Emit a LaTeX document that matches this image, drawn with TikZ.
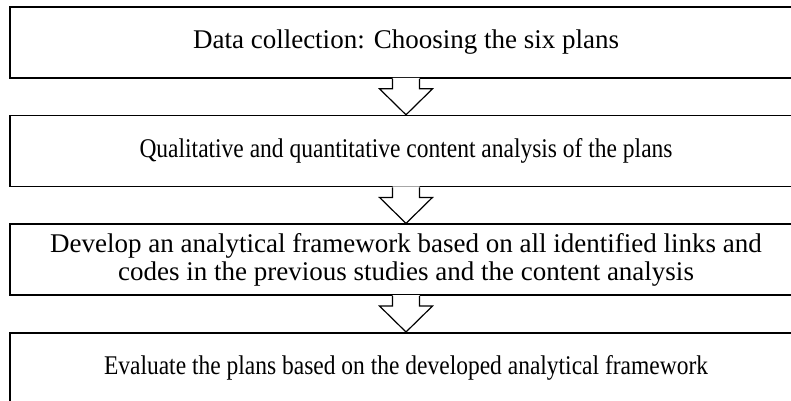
\documentclass[tikz,border=0pt]{standalone}
\usepackage{fontspec}
\setmainfont{Liberation Serif}
\newfontfamily\narrowserif[FakeStretch=0.87]{Liberation Serif}
\usetikzlibrary{positioning}
\tikzset{
  stage/.style={draw, line width=1.6pt, minimum width=792pt, minimum height=71pt,
    inner sep=0pt, align=center, font=\fontsize{27}{28}\selectfont},
  narrow/.style={font=\fontsize{27}{28}\narrowserif},
  flowarrow/.style={line width=1.2pt, line join=miter},
}
% open block arrow from the bottom of one stage to the top of the next
\newcommand{\stagearrow}[2]{%
  \fill[white] ([xshift=-13.5pt,yshift=1pt]#1.south) -- ++(0,-11pt) -- ++(-13pt,0)
    -- (#2.north) -- ([xshift=26.5pt,yshift=26pt]#2.north) -- ++(-13pt,0) -- ++(0,11pt) -- cycle;
  \draw[flowarrow] ([xshift=-13.5pt]#1.south) -- ++(0,-10pt) -- ++(-13pt,0)
    -- (#2.north) -- ([xshift=26.5pt,yshift=26pt]#2.north) -- ++(-13pt,0) -- ++(0,10pt);
}
\begin{document}
\begin{tikzpicture}[x=1pt,y=1pt]
\useasboundingbox (0,0) rectangle (791,-400);
\fill[white] (0,0) rectangle (791,-400);
\node[stage] (collect) at (406,-42.5) {Data collection: Choosing the six plans};
\node[stage, narrow, below=36pt of collect] (content) {Qualitative and quantitative content analysis of the plans};
\node[stage, below=36pt of content] (develop) {Develop an analytical framework based on all identified links and\\codes in the previous studies and the content analysis};
\node[stage, narrow, below=36pt of develop] (evaluate) {Evaluate the plans based on the developed analytical framework};
\stagearrow{collect}{content}
\stagearrow{content}{develop}
\stagearrow{develop}{evaluate}
\end{tikzpicture}
\end{document}
